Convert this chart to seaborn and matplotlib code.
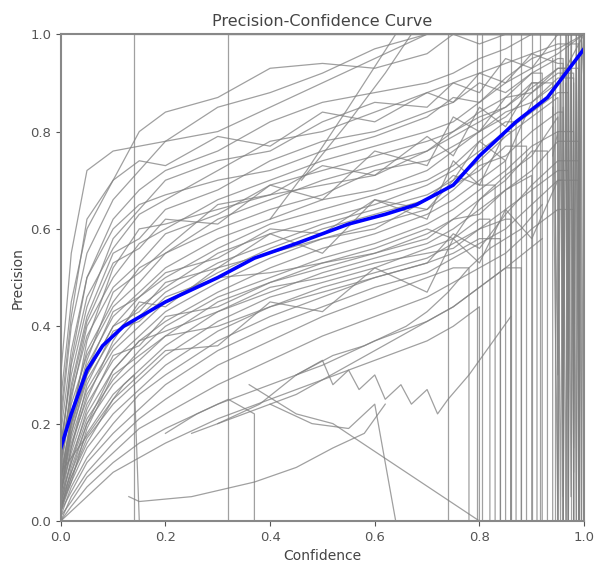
import numpy as np
import pandas as pd
import seaborn as sns
import matplotlib
matplotlib.use("Agg")
import matplotlib.pyplot as plt

# confidence grid shared by the per-class curves
conf_grid = [0.0, 0.02, 0.05, 0.1, 0.15, 0.2, 0.3, 0.4, 0.5, 0.6, 0.7, 0.75, 0.8, 0.85, 0.9, 0.95, 1.0]

# per-class precision (one list per class)
class_precision = [
    [0.30, 0.55, 0.72, 0.76, 0.77, 0.78, 0.80, 0.85, 0.90, 0.95, 1.00, 1.00, 1.00, 1.00, 1.00, 1.00, 1.00],
    [0.25, 0.45, 0.60, 0.70, 0.80, 0.84, 0.87, 0.93, 0.94, 0.93, 0.96, 1.00, 1.00, 1.00, 1.00, 1.00, 1.00],
    [0.20, 0.40, 0.55, 0.66, 0.72, 0.78, 0.85, 0.88, 0.92, 0.97, 1.00, 1.00, 0.98, 1.00, 1.00, 1.00, 1.00],
    [0.18, 0.35, 0.50, 0.62, 0.68, 0.72, 0.76, 0.82, 0.86, 0.88, 0.90, 0.92, 0.95, 0.97, 1.00, 1.00, 1.00],
    [0.15, 0.32, 0.46, 0.56, 0.63, 0.66, 0.72, 0.78, 0.80, 0.84, 0.88, 0.90, 0.92, 0.94, 0.96, 0.98, 1.00],
    [0.12, 0.28, 0.42, 0.55, 0.58, 0.64, 0.68, 0.74, 0.78, 0.80, 0.84, 0.86, 0.90, 0.88, 0.92, 0.95, 0.98],
    [0.10, 0.25, 0.40, 0.50, 0.57, 0.60, 0.66, 0.70, 0.74, 0.77, 0.80, 0.82, 0.86, 0.90, 0.93, 0.96, 1.00],
    [0.14, 0.26, 0.38, 0.48, 0.53, 0.59, 0.63, 0.69, 0.72, 0.75, 0.78, 0.80, 0.84, 0.87, 0.88, 0.92, 0.95],
    [0.08, 0.22, 0.35, 0.45, 0.52, 0.55, 0.62, 0.66, 0.70, 0.73, 0.76, 0.79, 0.82, 0.85, 0.90, 0.94, 0.97],
    [0.12, 0.24, 0.34, 0.44, 0.49, 0.55, 0.60, 0.64, 0.67, 0.72, 0.74, 0.77, 0.80, 0.84, 0.86, 0.90, 1.00],
    [0.06, 0.20, 0.32, 0.42, 0.47, 0.52, 0.58, 0.62, 0.66, 0.68, 0.72, 0.76, 0.80, 0.83, 0.88, 0.93, 0.96],
    [0.10, 0.20, 0.30, 0.40, 0.46, 0.50, 0.56, 0.61, 0.64, 0.67, 0.70, 0.73, 0.78, 0.82, 0.85, 0.90, 0.95],
    [0.05, 0.18, 0.29, 0.38, 0.44, 0.48, 0.55, 0.59, 0.62, 0.65, 0.69, 0.72, 0.76, 0.80, 0.84, 0.88, 0.94],
    [0.08, 0.17, 0.27, 0.36, 0.42, 0.47, 0.53, 0.57, 0.61, 0.64, 0.67, 0.70, 0.74, 0.79, 0.83, 0.87, 0.92],
    [0.04, 0.15, 0.26, 0.35, 0.40, 0.45, 0.51, 0.56, 0.60, 0.63, 0.66, 0.69, 0.72, 0.77, 0.80, 0.86, 0.90],
    [0.06, 0.14, 0.24, 0.33, 0.38, 0.43, 0.49, 0.54, 0.58, 0.61, 0.64, 0.68, 0.73, 0.75, 0.80, 0.84, 0.88],
    [0.03, 0.13, 0.22, 0.31, 0.37, 0.41, 0.47, 0.52, 0.56, 0.59, 0.63, 0.66, 0.70, 0.74, 0.78, 0.82, 0.88],
    [0.05, 0.12, 0.21, 0.29, 0.35, 0.40, 0.46, 0.50, 0.54, 0.57, 0.61, 0.64, 0.68, 0.72, 0.77, 0.80, 0.85],
    [0.02, 0.11, 0.20, 0.28, 0.33, 0.38, 0.45, 0.49, 0.52, 0.55, 0.59, 0.62, 0.66, 0.70, 0.76, 0.82, 0.90],
    [0.04, 0.10, 0.18, 0.26, 0.31, 0.36, 0.43, 0.47, 0.51, 0.54, 0.57, 0.60, 0.64, 0.68, 0.72, 0.78, 0.84],
    [0.02, 0.09, 0.17, 0.24, 0.29, 0.34, 0.41, 0.46, 0.49, 0.52, 0.56, 0.58, 0.62, 0.66, 0.70, 0.75, 0.82],
    [0.03, 0.08, 0.15, 0.22, 0.27, 0.32, 0.39, 0.44, 0.48, 0.51, 0.54, 0.57, 0.60, 0.64, 0.68, 0.72, 0.80],
    [0.01, 0.07, 0.13, 0.20, 0.26, 0.30, 0.37, 0.42, 0.46, 0.50, 0.53, 0.55, 0.58, 0.62, 0.66, 0.70, 0.76],
    [0.02, 0.06, 0.12, 0.18, 0.23, 0.28, 0.35, 0.40, 0.44, 0.48, 0.51, 0.54, 0.57, 0.60, 0.65, 0.70, 0.75],
    [0.00, 0.05, 0.10, 0.16, 0.21, 0.25, 0.32, 0.37, 0.42, 0.46, 0.50, 0.52, 0.55, 0.58, 0.62, 0.68, 0.72],
    [0.01, 0.04, 0.09, 0.14, 0.19, 0.22, 0.28, 0.33, 0.38, 0.42, 0.46, 0.49, 0.52, 0.55, 0.60, 0.64, 0.70],
    [0.00, 0.03, 0.07, 0.12, 0.16, 0.19, 0.24, 0.28, 0.32, 0.37, 0.41, 0.44, 0.48, 0.52, 0.55, 0.60, 0.66],
    [0.00, 0.02, 0.05, 0.10, 0.13, 0.16, 0.21, 0.25, 0.29, 0.33, 0.37, 0.40, 0.44, 0.48, 0.52, 0.56, 0.62],
    [0.16, 0.30, 0.44, 0.58, 0.64, 0.70, 0.74, 0.76, 0.82, 0.86, 0.85, 0.90, 0.88, 0.95, 0.93, 1.00, 1.00],
    [0.09, 0.21, 0.33, 0.47, 0.51, 0.56, 0.65, 0.67, 0.73, 0.71, 0.79, 0.75, 0.85, 0.81, 0.90, 0.86, 0.94],
    [0.07, 0.16, 0.25, 0.37, 0.45, 0.44, 0.52, 0.59, 0.55, 0.66, 0.62, 0.74, 0.69, 0.80, 0.74, 0.88, 0.92],
    [0.03, 0.09, 0.16, 0.25, 0.30, 0.35, 0.36, 0.45, 0.43, 0.52, 0.47, 0.58, 0.53, 0.64, 0.58, 0.70, 0.78],
    [0.22, 0.42, 0.62, 0.70, 0.74, 0.73, 0.79, 0.77, 0.84, 0.82, 0.88, 0.86, 0.92, 0.90, 0.96, 0.94, 1.00],
    [0.11, 0.27, 0.41, 0.53, 0.56, 0.62, 0.61, 0.69, 0.66, 0.76, 0.73, 0.83, 0.80, 0.87, 0.92, 0.89, 0.97],
    [0.05, 0.19, 0.31, 0.43, 0.46, 0.51, 0.54, 0.60, 0.59, 0.66, 0.64, 0.70, 0.78, 0.74, 0.86, 0.91, 0.95],
    [0.09, 0.18, 0.30, 0.40, 0.43, 0.49, 0.52, 0.55, 0.58, 0.60, 0.66, 0.71, 0.69, 0.77, 0.81, 0.88, 0.93],
    [0.04, 0.12, 0.23, 0.34, 0.36, 0.42, 0.44, 0.49, 0.53, 0.56, 0.60, 0.58, 0.66, 0.71, 0.75, 0.83, 0.90],
    [0.02, 0.08, 0.19, 0.30, 0.34, 0.38, 0.40, 0.44, 0.47, 0.50, 0.53, 0.59, 0.56, 0.63, 0.69, 0.74, 0.80],
    [0.06, 0.15, 0.28, 0.39, 0.41, 0.46, 0.50, 0.51, 0.53, 0.55, 0.58, 0.62, 0.63, 0.68, 0.71, 0.76, 0.85],
    [0.13, 0.33, 0.50, 0.60, 0.65, 0.67, 0.70, 0.72, 0.76, 0.79, 0.83, 0.87, 0.86, 0.91, 0.95, 0.97, 1.00],
    [0.08, 0.20, 0.37, 0.52, 0.60, 0.61, 0.64, 0.67, 0.69, 0.71, 0.76, 0.80, 0.83, 0.85, 0.89, 0.93, 0.99],
    [0.03, 0.10, 0.20, 0.31, 0.37, 0.39, 0.43, 0.48, 0.50, 0.53, 0.55, 0.56, 0.60, 0.62, 0.67, 0.73, 0.77],
]
# confidence where a class falls to zero precision (None = no drop)
drop_at = [None, None, 0.97, None, 0.99, 0.96, None, 0.98, 0.91, None, 0.99, 0.87, 0.97, 0.95, 0.89, 0.96,
           0.85, 0.98, 0.93, 0.99, 0.82, 0.97, 0.84, 0.96, 0.78, 0.98, 0.88, 0.80, None, 0.94, 0.86, 0.99,
           0.96, 0.92, 0.98, 0.83, 0.95, 0.99, 0.90, None, 0.97, 0.86]

# confidences where a class jumps straight from 0 to 1 (full-height lines)
jump_at = [0.14, 0.32, 0.74, 0.795, 0.805, 0.84, 0.86, 0.88, 0.90, 0.915, 0.945, 0.965, 0.975, 0.985, 0.99, 0.995]

# last few classes that flicker between 0 and 1 near confidence 1
flicker_conf = [0.94, 0.95, 0.955, 0.96, 0.965, 0.97, 0.975, 0.98, 0.985, 0.99, 0.995, 1.0]
flicker_precision = [
    [0.85, 0.00, 0.90, 0.05, 1.00, 0.00, 0.95, 0.10, 1.00, 0.00, 1.00, 1.00],
    [0.75, 0.80, 0.00, 0.85, 0.00, 1.00, 0.05, 0.90, 0.00, 1.00, 0.00, 1.00],
    [0.95, 0.30, 1.00, 0.20, 0.90, 0.25, 1.00, 0.15, 0.95, 0.30, 1.00, 0.90],
]

# odd classes with their own confidence points
odd_conf = [
    [0.13, 0.15, 0.25, 0.37, 0.45, 0.52, 0.58, 0.62],
    [0.36, 0.45, 0.52, 0.66, 0.80],
    [0.40, 0.48, 0.55, 0.60, 0.64],
    [0.0, 0.04, 0.08, 0.12, 0.14, 0.15],
    [0.20, 0.26, 0.32, 0.37, 0.37],
    [0.45, 0.50, 0.52, 0.55, 0.57, 0.60, 0.62, 0.65, 0.67, 0.70, 0.72, 0.74, 0.78, 0.82, 0.86],
    [0.30, 0.38, 0.45, 0.52, 0.58, 0.62, 0.66, 0.70, 0.74, 0.78, 0.82, 0.88, 0.92],
    [0.46, 0.55, 0.62, 0.67],
    [0.40, 0.47, 0.55, 0.64],
    [0.25, 0.35, 0.45, 0.55, 0.65, 0.75, 0.85, 0.92],
]
odd_precision = [
    [0.05, 0.04, 0.05, 0.08, 0.11, 0.15, 0.18, 0.24],
    [0.28, 0.22, 0.20, 0.10, 0.0],
    [0.24, 0.20, 0.19, 0.24, 0.0],
    [0.10, 0.16, 0.22, 0.28, 0.30, 0.0],
    [0.18, 0.22, 0.25, 0.22, 0.0],
    [0.30, 0.33, 0.28, 0.31, 0.27, 0.30, 0.25, 0.28, 0.24, 0.27, 0.22, 0.25, 0.30, 0.36, 0.42],
    [0.20, 0.24, 0.30, 0.34, 0.36, 0.38, 0.40, 0.43, 0.47, 0.52, 0.56, 0.60, 0.65],
    [0.70, 0.82, 0.92, 1.0],
    [0.62, 0.72, 0.85, 1.0],
    [0.18, 0.22, 0.26, 0.32, 0.38, 0.44, 0.52, 0.58],
]

# mean curve over all classes
mean_conf = [0.0, 0.02, 0.05, 0.08, 0.12, 0.2, 0.3, 0.37, 0.45, 0.55, 0.62, 0.68, 0.75, 0.8, 0.87, 0.93, 1.0]
mean_precision = [0.15, 0.22, 0.31, 0.36, 0.40, 0.45, 0.50, 0.54, 0.57, 0.61, 0.63, 0.65, 0.69, 0.75, 0.82, 0.87, 0.97]

rows = []
for i, prec in enumerate(class_precision):
    d = drop_at[i]
    last = None
    for c, p in zip(conf_grid, prec):
        if d is not None and c > d:
            break
        rows.append((f"c{i}", c, p))
        last = p
    if d is not None:
        rows.append((f"c{i}", d, last))
        rows.append((f"c{i}", d, 0.0))
for k, d in enumerate(jump_at):
    for c, p in [(0.0, 0.0), (d, 0.0), (d, 1.0), (1.0, 1.0)]:
        rows.append((f"j{k}", c, p))
for k, ps in enumerate(flicker_precision):
    for c, p in zip(flicker_conf, ps):
        rows.append((f"f{k}", c, p))
for j, (cs, ps) in enumerate(zip(odd_conf, odd_precision)):
    for c, p in zip(cs, ps):
        rows.append((f"o{j}", c, p))
df = pd.DataFrame(rows, columns=["cls", "Confidence", "Precision"])

fig = plt.figure(figsize=(5.96, 5.70), dpi=100)
ax = fig.add_axes([0.102, 0.086, 0.878, 0.854])

sns.lineplot(data=df, x="Confidence", y="Precision", units="cls", estimator=None,
             sort=False, color="gray", linewidth=0.9, alpha=0.75, ax=ax)
sns.lineplot(x=mean_conf, y=mean_precision, color="blue", linewidth=2.6, ax=ax)

ax.set_xlim(0, 1)
ax.set_ylim(0, 1)
ax.set_title("Precision-Confidence Curve", fontsize=11.5, color="#444444")
ax.set_xlabel("Confidence", fontsize=10, color="#444444")
ax.set_ylabel("Precision", fontsize=10, color="#444444")
ax.tick_params(labelsize=9.5, colors="#555555")
for s in ax.spines.values():
    s.set_color("#888888")
    s.set_linewidth(1.5)

fig.savefig("out.png", dpi=100)
